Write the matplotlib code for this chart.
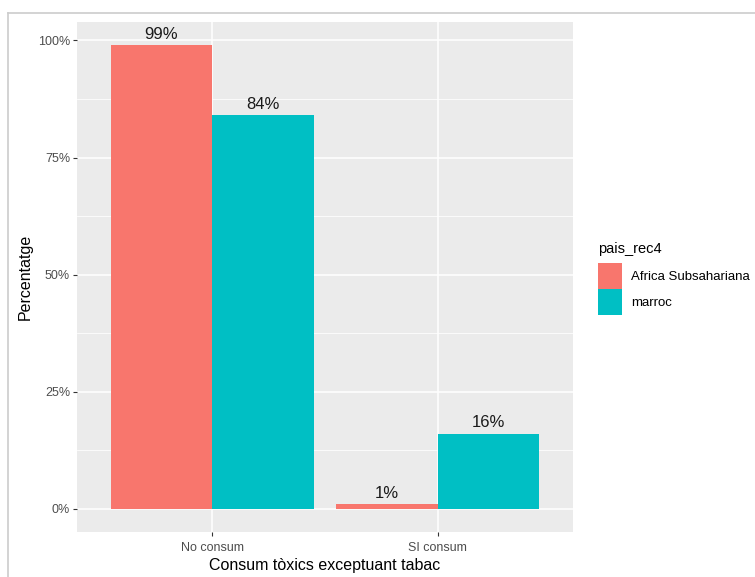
import numpy as np
import matplotlib
matplotlib.use("Agg")
import matplotlib.pyplot as plt
from matplotlib.ticker import MultipleLocator, FuncFormatter
from matplotlib.lines import Line2D

plt.rcParams['font.family'] = ['Liberation Sans', 'DejaVu Sans']

categories = ["No consum", "SI consum"]
groups = ["Africa Subsahariana", "marroc"]
africa = [0.99, 0.01]
marroc = [0.84, 0.16]
colors = ["#F8766D", "#00BFC4"]

fig = plt.figure(figsize=(7.55, 5.77), dpi=100)
ax = fig.add_axes([77/755, 45/577, 496/755, 510/577])
ax.set_facecolor("#EBEBEB")

x = np.arange(1, len(categories) + 1)
w = 0.45
for i, (vals, col, name) in enumerate(zip([africa, marroc], colors, groups)):
    pos = x + (i - 0.5) * w
    ax.bar(pos, vals, width=w, color=col, label=name, zorder=3)
    for p, v in zip(pos, vals):
        ax.annotate(f"{v*100:.0f}%", (p, v), xytext=(0, 2.5), textcoords='offset points',
                    ha='center', va='bottom', fontsize=12, color="#1a1a1a", zorder=4)

ax.set_xlim(0.4, 2.6)
ax.set_ylim(-0.0495, 1.0395)
ax.set_xticks(x)
ax.set_xticklabels(categories)
ax.yaxis.set_major_locator(MultipleLocator(0.25))
ax.yaxis.set_minor_locator(MultipleLocator(0.125))
ax.yaxis.set_major_formatter(FuncFormatter(lambda v, _: f"{v*100:.0f}%"))

ax.grid(which='major', color='white', linewidth=1.1, zorder=0)
ax.grid(which='minor', axis='y', color='white', linewidth=0.55, zorder=0)
ax.set_axisbelow(True)
for s in ax.spines.values():
    s.set_visible(False)
ax.tick_params(which='major', length=3, width=0.8, color='#333333',
               labelcolor='#4D4D4D', labelsize=9, pad=2)
ax.tick_params(axis='x', pad=4)
ax.tick_params(which='minor', length=0)

ax.set_xlabel("Consum tòxics exceptuant tabac", fontsize=11.5, color='black', labelpad=3)
ax.set_ylabel("Percentatge", fontsize=11.5, color='black', labelpad=4)

leg = ax.legend(title="pais_rec4", loc='upper left', bbox_to_anchor=(598/755, 1 - 242/577),
                bbox_transform=fig.transFigure, frameon=False, fontsize=9.5,
                title_fontsize=10.5, handlelength=1.85, handleheight=2.65,
                handletextpad=0.65, labelspacing=0.0, borderaxespad=0, borderpad=0)
leg._legend_box.align = "left"
leg._legend_box.sep = 5

# screenshot frame
fig.add_artist(Line2D([8/755, 1], [1 - 13/577, 1 - 13/577], transform=fig.transFigure,
                      color='#CCCCCC', linewidth=1.2))
fig.add_artist(Line2D([8/755, 8/755], [0, 1 - 13/577], transform=fig.transFigure,
                      color='#CCCCCC', linewidth=1.2))

fig.savefig("out.png", dpi=100)
